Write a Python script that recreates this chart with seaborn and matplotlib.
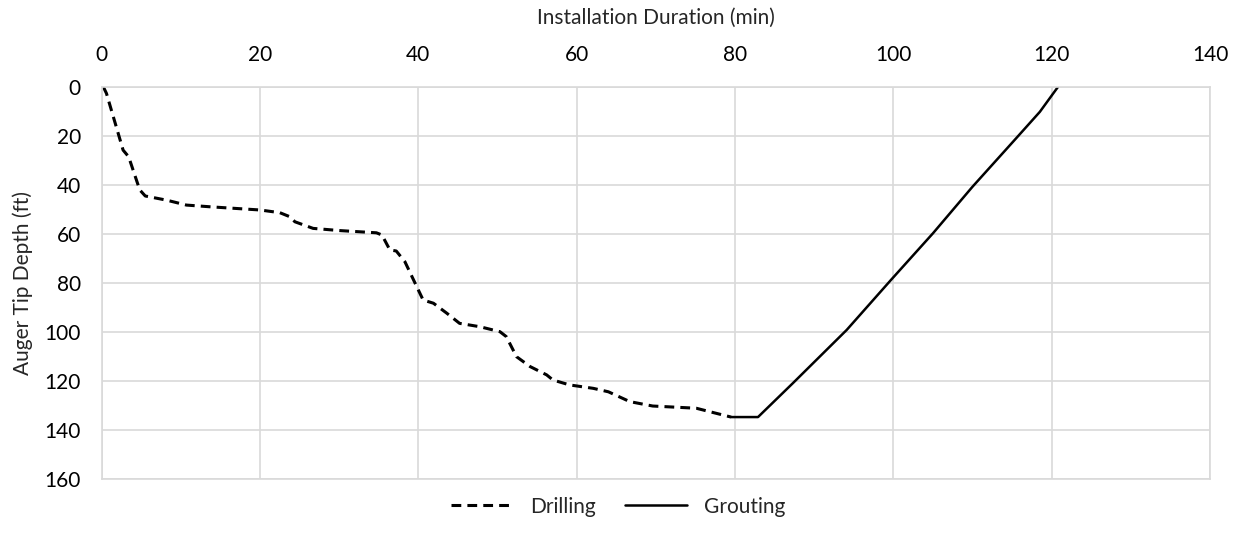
import pandas as pd
import matplotlib
import matplotlib.pyplot as plt
import seaborn as sns

matplotlib.use("Agg")

# Drilling: time (min) vs auger tip depth (ft)
drill_time = [0.2, 0.6, 2.7, 3.4, 4.8, 5.5, 8.2, 10.7, 13.7, 16.6, 20.0, 22.5, 23.8,
              24.4, 26.7, 30.1, 34.7, 35.4, 36.4, 37.2, 38.3, 39.8, 40.6, 41.9, 43.6,
              45.2, 47.8, 50.3, 51.1, 52.4, 54.1, 56.2, 57.0, 59.1, 62.1, 64.0, 66.7,
              69.6, 75.1, 76.8, 79.5]
drill_depth = [0.0, 2.7, 25.8, 28.5, 42.0, 44.5, 46.2, 48.2, 48.9, 49.5, 50.2, 51.3, 53.0,
               55.0, 57.7, 58.6, 59.5, 60.4, 66.5, 66.9, 71.3, 81.5, 86.9, 88.2, 92.3,
               96.4, 97.8, 99.8, 101.8, 110.0, 114.0, 117.4, 119.5, 121.5, 122.9, 124.3, 128.3,
               130.1, 131.0, 132.4, 134.6]

# Grouting
grout_time = [79.5, 82.9, 87.3, 94.1, 99.7, 105.0, 110.0, 115.5, 118.5, 120.8]
grout_depth = [134.6, 134.6, 120.8, 99.1, 78.7, 59.7, 40.7, 21.0, 10.2, 0.0]

drill = pd.DataFrame({"time": drill_time, "depth": drill_depth})
grout = pd.DataFrame({"time": grout_time, "depth": grout_depth})

sns.set_style("white")
plt.rcParams["font.family"] = ["Lato", "DejaVu Sans"]

fig = plt.figure(figsize=(12.36, 5.46), dpi=100)
ax = fig.add_axes([0.0823, 0.122, 0.8967, 0.719])

sns.lineplot(data=drill, x="time", y="depth", ax=ax, sort=False, color="black",
             linewidth=2.2, linestyle=(0, (3.2, 2.0)), label="Drilling")
sns.lineplot(data=grout, x="time", y="depth", ax=ax, sort=False, color="black",
             linewidth=1.8, label="Grouting")

ax.set_xlim(0, 140)
ax.set_ylim(160, 0)
ax.set_xticks(range(0, 141, 20))
ax.set_yticks(range(0, 161, 20))
ax.xaxis.tick_top()
ax.xaxis.set_label_position("top")
ax.tick_params(axis="x", length=0, labelsize=15, colors="black", pad=16)
ax.tick_params(axis="y", length=0, labelsize=15, colors="black", pad=15)
ax.set_xlabel("Installation Duration (min)", fontsize=15, labelpad=15)
ax.set_ylabel("Auger Tip Depth (ft)", fontsize=15, labelpad=8)
ax.grid(True, color="#d9d9d9", linewidth=1.2)
for s in ax.spines.values():
    s.set_color("#d9d9d9")
    s.set_linewidth(1.2)

ax.get_legend().remove()
handles, labels = ax.get_legend_handles_labels()
fig.legend(handles, labels, loc="center", bbox_to_anchor=(0.5, 0.072), ncol=2,
           frameon=False, fontsize=15, handlelength=3.0, handletextpad=0.8,
           columnspacing=1.4)

fig.savefig("out.png", dpi=100)
